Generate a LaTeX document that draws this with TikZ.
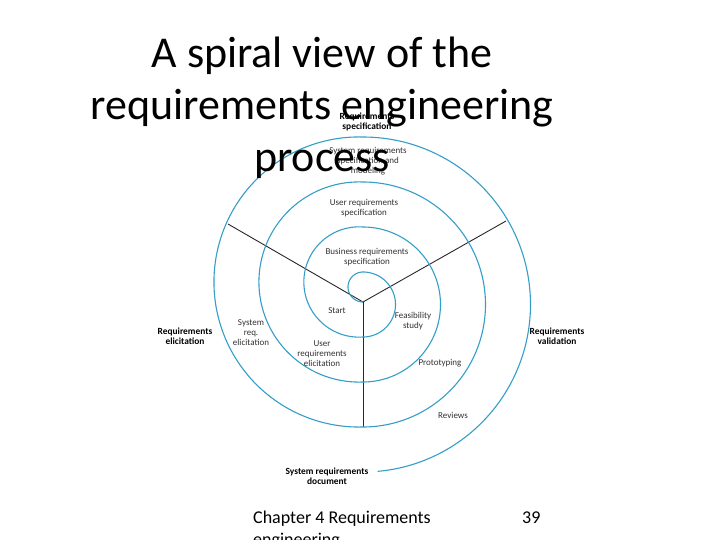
\documentclass[tikz,border=0pt]{standalone}
\usepackage{fontspec}
\setmainfont{Carlito}
\definecolor{spiralblue}{RGB}{52,158,200}
\definecolor{axisgray}{RGB}{40,40,40}
\definecolor{lblgray}{RGB}{50,50,50}
\begin{document}
\begin{tikzpicture}[x=1pt,y=-1pt,
  spiral/.style={draw=spiralblue, line width=1.1pt},
  axisline/.style={draw=axisgray, line width=0.9pt},
  lbl/.style={font=\fontsize{9}{10}\selectfont, align=center, text=lblgray, inner sep=0pt},
  blbl/.style={font=\fontsize{9.4}{10}\selectfont\bfseries, align=center, text=black, inner sep=0pt},
  titletxt/.style={font=\fontsize{44}{52}\selectfont, anchor=base, inner sep=0pt},
  foottxt/.style={font=\fontsize{18}{22}\selectfont, anchor=base west, inner sep=0pt}]
\useasboundingbox (0,0) rectangle (720,540);
\fill[white] (0,0) rectangle (720,540);
\clip (0,0) rectangle (720,540);

% radial lines
\coordinate (c) at (363,302);
\coordinate (lend) at (228,224);
\coordinate (rend) at (506,221);
\coordinate (bend) at (363,427);
\draw[axisline] (c) -- (lend);
\draw[axisline] (c) -- (rend);
\draw[axisline] (c) -- (bend);

% spiral
\draw[spiral]
  plot[domain=90:270, samples=40] ({363+15*cos(\x)},{287+15*sin(\x)})
  -- plot[domain=270:450, samples=60] ({363+32.5*cos(\x)},{304.5+32.5*sin(\x)})
  -- plot[domain=85.84:274.16, samples=80] ({359+55.15*cos(\x)},{282+55.15*sin(\x)})
  -- plot[domain=270:450, samples=80] ({363+77.5*cos(\x)},{304.5+77.5*sin(\x)})
  -- plot[domain=87.71:272.29, samples=100] ({359+100.08*cos(\x)},{282+100.08*sin(\x)})
  -- plot[domain=270:450, samples=100] ({363+122.5*cos(\x)},{304.5+122.5*sin(\x)})
  -- plot[domain=88.42:271.58, samples=120] ({359+145.06*cos(\x)},{282+145.06*sin(\x)})
  -- plot[domain=270:445, samples=120] ({363+167.5*cos(\x)},{304.5+167.5*sin(\x)});

% labels
\node[blbl] (rspec) at (367,122) {Requirements\\specification};
\node[lbl] (srspec) at (368,161) {System requirements\\specification and\\modeling};
\node[lbl] (urspec) at (364,208) {User requirements\\specification};
\node[lbl] (brspec) at (367,257) {Business requirements\\specification};
\node[lbl] (start) at (337,311) {Start};
\node[lbl] (feas) at (413,321.5) {Feasibility\\study};
\node[lbl] (proto) at (440,363) {Prototyping};
\node[lbl] (reviews) at (453,415) {Reviews};
\node[blbl] (rval) at (557,336) {Requirements\\validation};
\node[blbl] (relic) at (185,336) {Requirements\\elicitation};
\node[lbl] (sysel) at (251,333) {System\\req.\\elicitation};
\node[lbl] (usel) at (322,353.5) {User\\requirements\\elicitation};
\node[blbl] (srdoc) at (327,476) {System requirements\\document};

% title
\node[titletxt] (t1) at (322,68) {A spiral view of the};
\node[titletxt] (t2) at (322,120) {requirements engineering};
\node[titletxt] (t3) at (322,172) {process};

% footer
\node[foottxt] (f1) at (253,523) {Chapter 4 Requirements};
\node[foottxt] (f2) at (253,545) {engineering};
\node[foottxt] (pg) at (522,523) {39};
\end{tikzpicture}
\end{document}
